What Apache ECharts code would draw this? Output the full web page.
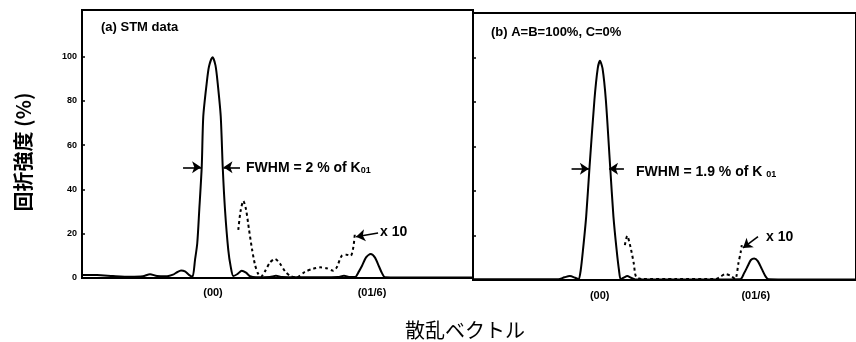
<!DOCTYPE html>
<html>
<head>
<meta charset="utf-8">
<script src="https://cdn.jsdelivr.net/npm/echarts@6/dist/echarts.min.js"></script>
<style>html,body{margin:0;padding:0;background:#fff}#c{width:856px;height:342px}</style>
</head>
<body>
<div id="c"></div>
<script>
// x in % of K01 : (00) = 0, (01/6) = 16.667
const X_TICK_VALUES = [0, 16.667];
const X_TICK_LABELS = ['(00)', '(01/6)'];
const Y_TICK_VALUES = [0, 20, 40, 60, 80, 100];

// Panel (a) STM data — solid
const A_SOLID_X = [-13.73,-12.16,-10.48,-8.70,-7.34,-6.60,-5.87,-4.82,-4.19,-3.77,-3.35,-2.94,-2.52,-2.15,-1.89,-1.65,-1.44,-1.18,-1.02,-0.66,-0.42,-0.05,0.26,0.49,0.81,1.02,1.26,1.60,1.86,2.13,2.57,3.01,3.46,3.88,4.51,5.97,6.60,7.23,9.12,11.22,13.10,13.73,14.36,14.88,15.30,15.62,16.04,16.53,16.98,17.40,17.71,18.03,19.60,22.75,27.25];
const A_SOLID_Y = [1.3,1.3,0.9,0.6,0.8,1.7,0.9,0.8,1.5,2.6,3.4,3.0,1.4,0.6,8,15.7,30.7,50.3,72.9,88,95.5,99.7,96,88,73,50,30.7,12.7,5,0.9,1.8,3.3,2.4,0.8,0.3,0.5,1.0,0.4,0.3,0.3,0.4,1.0,0.4,0.4,3,5.5,9.3,10.8,9.2,5.2,2.2,0.3,0.2,0.2,0.2];
// Panel (a) — dashed (x 10)
const A_DASH_X = [2.65,2.88,3.18,3.46,3.77,4.09,4.40,4.72,5.03,5.45,5.97,6.50,7.02,7.55,8.07,8.77,9.64,10.51,11.22,11.92,12.61,12.97,13.49,14.01,14.43,14.71,14.88];
const A_DASH_Y = [21.7,30,34.8,31,22,13,6,2,0.6,3,7,8.6,6.5,3,1,0.3,2.8,4.2,4.8,4.4,3.3,4.8,10,10.5,10,14,20.5];

// Panel (b) A=B=100%, C=0% — solid
const B_SOLID_X = [-13.52,-8.60,-4.40,-3.77,-3.18,-2.62,-2.25,-2.02,-1.78,-1.44,-1.08,-0.56,-0.21,0.03,0.31,0.66,1.12,1.47,1.81,2.06,2.25,2.62,2.94,3.35,3.77,10.27,14.99,15.41,15.83,16.14,16.49,16.88,17.30,17.72,18.03,20.75,27.36];
const B_SOLID_Y = [0.3,0.3,0.3,1.2,1.8,1.0,0.3,4.5,13.5,28.5,50.9,80.9,95,98.5,95,80.9,50.9,28.5,13.5,4.5,0.3,1.2,1.8,1.0,0.3,0.2,0.3,3,6.5,9,9.7,8.5,5,1.5,0.3,0.2,0.2];
// Panel (b) — dashed (x 10)
const B_DASH_X = [2.69,2.94,3.28,3.64,3.88,4.51,8.18,12.37,12.89,13.42,13.94,14.47,14.81,15.06,15.17];
const B_DASH_Y = [15.7,19.8,15,7.5,1.5,0.4,0.4,0.4,1.5,2.7,2,0.5,7.5,12.7,15.7];

const zip = (xs, ys) => xs.map((x, i) => [x, ys[i]]);

const LAT = '"Liberation Sans", Arial, Helvetica, sans-serif';
const CJK = '"Noto Sans CJK JP", "Noto Sans CJK SC", sans-serif';

function xAxisCfg(gridIndex, min, max, margin) {
  return {
    type: 'value', gridIndex, min, max,
    axisLine: {show: true, onZero: false, lineStyle: {color: '#000', width: 2}},
    axisTick: {show: false},
    splitLine: {show: false},
    axisLabel: {
      customValues: X_TICK_VALUES,
      formatter: v => X_TICK_LABELS[X_TICK_VALUES.findIndex(t => Math.abs(t - v) < 0.01)] || '',
      color: '#000', fontFamily: LAT, fontWeight: 'bold', fontSize: 11, margin
    }
  };
}
function yAxisCfg(gridIndex, max, showLabels) {
  return {
    type: 'value', gridIndex, min: 0, max, position: 'left',
    axisLine: {show: true, onZero: false, lineStyle: {color: '#000', width: 2}},
    axisTick: {show: true, inside: true, length: 3, customValues: Y_TICK_VALUES, lineStyle: {color: '#000', width: 1.5}},
    splitLine: {show: false},
    axisLabel: {
      show: showLabels, customValues: Y_TICK_VALUES,
      color: '#000', fontFamily: LAT, fontWeight: 'bold', fontSize: 9, margin: 5
    }
  };
}
const arrowLine = (pairs) => ({
  silent: true, animation: false,
  symbol: ['none', 'arrow'], symbolSize: 9,
  lineStyle: {color: '#000', width: 1.6, type: 'solid'},
  label: {show: false},
  data: pairs.map(p => [{coord: p[0]}, {coord: p[1]}])
});

const solidStyle = {color: '#000', width: 2};
const dashStyle = {color: '#000', width: 2, type: [3, 3]};

const chart = echarts.init(document.getElementById('c'), null, {renderer: 'canvas'});
chart.setOption({
  animation: false,
  backgroundColor: '#fff',
  grid: [
    {left: 82, top: 10, width: 391, height: 268, show: true, borderColor: '#000', borderWidth: 2, backgroundColor: 'transparent'},
    {left: 473, top: 13, width: 390, height: 267, show: true, borderColor: '#000', borderWidth: 2, backgroundColor: 'transparent'}
  ],
  xAxis: [xAxisCfg(0, -13.73, 27.25, 9), xAxisCfg(1, -13.52, 27.36, 10)],
  yAxis: [yAxisCfg(0, 121, true), yAxisCfg(1, 120, false)],
  series: [
    {type: 'line', xAxisIndex: 0, yAxisIndex: 0, data: zip(A_SOLID_X, A_SOLID_Y), showSymbol: false, smooth: 0.25, lineStyle: solidStyle,
     markLine: arrowLine([[[-3.14, 50], [-1.25, 50]], [[2.83, 50], [1.1, 50]], [[17.3, 20.3], [15.0, 18.6]]])},
    {type: 'line', xAxisIndex: 0, yAxisIndex: 0, data: zip(A_DASH_X, A_DASH_Y), showSymbol: false, smooth: 0.25, lineStyle: dashStyle},
    {type: 'line', xAxisIndex: 1, yAxisIndex: 1, data: zip(B_SOLID_X, B_SOLID_Y), showSymbol: false, smooth: 0.25, lineStyle: solidStyle,
     markLine: arrowLine([[[-3.0, 50], [-1.15, 50]], [[2.59, 50], [1.0, 50]], [[16.9, 19.5], [15.3, 14.4]]])},
    {type: 'line', xAxisIndex: 1, yAxisIndex: 1, data: zip(B_DASH_X, B_DASH_Y), showSymbol: false, smooth: 0.25, lineStyle: dashStyle}
  ],
  graphic: [
    {type: 'text', left: 101, top: 21, style: {text: '(a) STM data', font: 'bold 13px ' + LAT, fill: '#000'}},
    {type: 'text', left: 491, top: 26, style: {text: '(b) A=B=100%, C=0%', font: 'bold 13px ' + LAT, fill: '#000'}},
    {type: 'text', x: 246, y: 168, style: {text: '{m|FWHM = 2 % of K}{s|01}', verticalAlign: 'middle', rich: {
      m: {fontFamily: LAT, fontWeight: 'bold', fontSize: 14, fill: '#000', verticalAlign: 'bottom'},
      s: {fontFamily: LAT, fontWeight: 'bold', fontSize: 9, fill: '#000', verticalAlign: 'bottom'}}}},
    {type: 'text', x: 636, y: 172, style: {text: '{m|FWHM = 1.9 % of K }{s|01}', verticalAlign: 'middle', rich: {
      m: {fontFamily: LAT, fontWeight: 'bold', fontSize: 14, fill: '#000', verticalAlign: 'bottom'},
      s: {fontFamily: LAT, fontWeight: 'bold', fontSize: 9, fill: '#000', verticalAlign: 'bottom'}}}},
    {type: 'text', x: 380, y: 232, style: {text: 'x 10', font: 'bold 14px ' + LAT, fill: '#000', verticalAlign: 'middle'}},
    {type: 'text', x: 766, y: 237, style: {text: 'x 10', font: 'bold 14px ' + LAT, fill: '#000', verticalAlign: 'middle'}},
    {type: 'text', x: 23, y: 152, rotation: Math.PI / 2, style: {text: '回折強度 (%)', font: 'bold 20px ' + CJK, fill: '#000', align: 'center', verticalAlign: 'middle'}},
    {type: 'text', x: 465, y: 330, style: {text: '散乱ベクトル', font: '20px ' + CJK, fill: '#000', align: 'center', verticalAlign: 'middle'}}
  ]
});
</script>
</body>
</html>
